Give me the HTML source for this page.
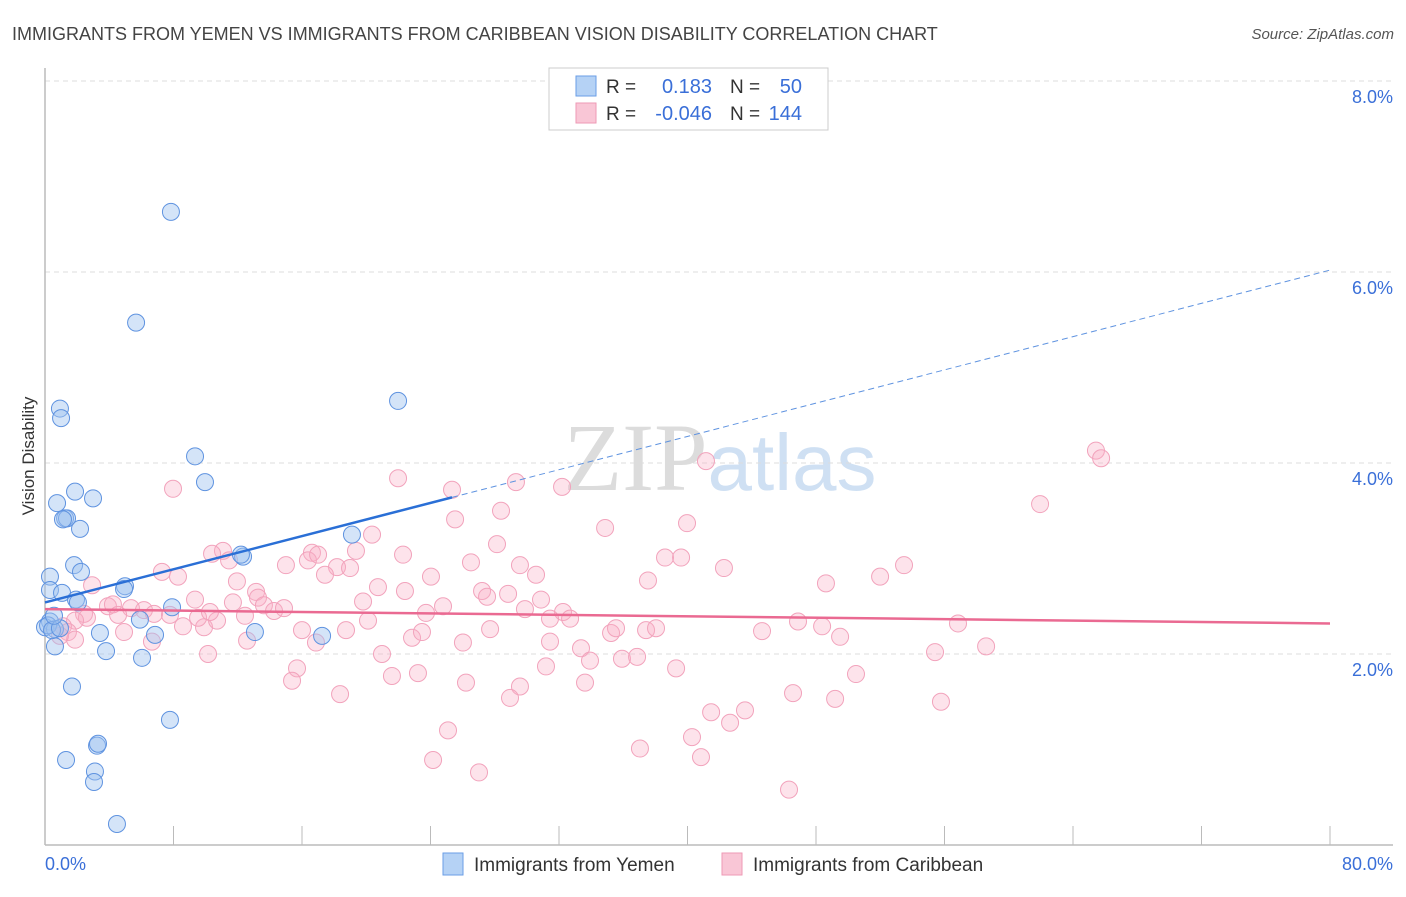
<!DOCTYPE html>
<html><head><meta charset="utf-8">
<style>
body{margin:0;background:#fff;font-family:"Liberation Sans",sans-serif;}
svg text{font-family:"Liberation Sans",sans-serif;}
</style></head>
<body>
<svg id="chart" width="1406" height="892" xmlns="http://www.w3.org/2000/svg">
<text x="12" y="40" font-size="18" fill="#444">IMMIGRANTS FROM YEMEN VS IMMIGRANTS FROM CARIBBEAN VISION DISABILITY CORRELATION CHART</text>
<text x="1394" y="39" font-size="15" fill="#555" text-anchor="end" font-style="italic">Source: ZipAtlas.com</text>
<text x="720" y="490" font-size="96" text-anchor="middle" fill="#e4e4e4"><tspan font-family="Liberation Serif" fill="#dcdcdc">ZIP</tspan><tspan fill="#cfe0f3" font-size="80">atlas</tspan></text>
<g id="grid"></g>
<g id="axes"></g>
<g id="pts"></g>
<g id="lines"></g>
<text transform="translate(34,456) rotate(-90)" font-size="17" fill="#333" text-anchor="middle">Vision Disability</text>
<g>
<rect x="549" y="68" width="279" height="62" fill="#fff" stroke="#ccc"/>
<rect x="576" y="76" width="20" height="20" fill="#b5d2f5" stroke="#6a9ee6"/>
<text x="606" y="93" font-size="19" fill="#333">R = </text><text x="712" y="93" font-size="20" fill="#3a6fd8" text-anchor="end">0.183</text>
<text x="730" y="93" font-size="19" fill="#333">N = </text><text x="802" y="93" font-size="20" fill="#3a6fd8" text-anchor="end">50</text>
<rect x="576" y="103" width="20" height="20" fill="#f9c6d6" stroke="#ee9ab5"/>
<text x="606" y="120" font-size="19" fill="#333">R = </text><text x="712" y="120" font-size="20" fill="#3a6fd8" text-anchor="end">-0.046</text>
<text x="730" y="120" font-size="19" fill="#333">N = </text><text x="802" y="120" font-size="20" fill="#3a6fd8" text-anchor="end">144</text>
</g>
<g>
<rect x="443" y="853" width="20" height="22" fill="#b5d2f5" stroke="#6a9ee6"/>
<text x="474" y="871" font-size="19" fill="#333">Immigrants from Yemen</text>
<rect x="722" y="853" width="20" height="22" fill="#f9c6d6" stroke="#ee9ab5"/>
<text x="753" y="871" font-size="19" fill="#333">Immigrants from Caribbean</text>
</g>
</svg>
<script>
const xTicks=[0,80];
const yTicks=[2,4,6,8];
const yemenX=[7.84,5.67,0.93,1.00,21.98,9.34,9.96,2.99,0.75,1.87,1.25,1.37,1.12,2.18,19.11,12.33,12.20,0.31,1.81,2.24,0.31,1.06,4.98,4.92,1.93,2.05,7.91,5.91,0.31,0,0.62,3.42,6.85,13.07,17.25,3.80,0.62,6.04,1.68,7.78,3.24,3.30,1.31,3.11,3.05,4.48,0.19,0.44,0.93,0.56];
const yemenY=[6.63,5.47,4.57,4.47,4.65,4.07,3.80,3.63,3.58,3.70,3.42,3.42,3.41,3.31,3.25,3.02,3.04,2.81,2.93,2.86,2.67,2.64,2.71,2.68,2.57,2.54,2.49,2.36,2.34,2.28,2.26,2.22,2.20,2.23,2.19,2.03,2.08,1.96,1.66,1.31,1.04,1.06,0.89,0.77,0.66,0.22,2.30,2.25,2.27,2.40];
const carX=[7.97,21.98,29.32,32.19,25.34,41.15,65.43,65.75,61.95,25.53,28.39,39.97,34.87,20.36,28.14,11.08,10.40,11.46,16.62,19.36,22.29,7.28,8.28,15.00,16.37,17.00,18.18,18.99,26.52,29.57,30.57,38.60,39.60,42.27,53.48,51.99,48.62,37.54,11.95,17.43,20.73,22.41,24.03,2.93,13.14,13.26,27.21,27.52,28.83,30.88,19.80,9.34,5.35,3.92,4.23,6.16,6.79,7.78,11.70,13.63,14.26,14.88,23.72,24.78,29.88,32.25,31.44,32.69,4.55,2.43,2.61,1.87,1.12,1.43,1.87,0.93,4.92,6.66,8.59,9.90,10.71,12.45,9.53,16.00,16.87,18.74,20.11,22.85,23.47,27.71,26.02,31.44,35.24,35.55,37.42,38.04,44.64,46.88,48.38,49.50,56.84,58.59,55.41,33.37,33.93,35.92,36.86,31.19,39.29,20.98,10.15,12.58,15.69,15.38,21.60,23.22,26.21,29.57,33.62,18.37,28.95,46.57,49.19,50.49,55.78,41.47,43.58,42.65,25.09,40.28,37.04,40.84,24.16,27.02,46.32,10.27];
const carY=[3.73,3.84,3.80,3.75,3.72,4.02,4.13,4.05,3.57,3.41,3.50,3.37,3.32,3.25,3.15,3.08,3.05,2.98,3.06,3.08,3.04,2.86,2.81,2.93,2.98,3.04,2.91,2.90,2.96,2.93,2.83,3.01,3.01,2.90,2.93,2.81,2.74,2.77,2.76,2.83,2.70,2.66,2.81,2.72,2.65,2.59,2.66,2.60,2.63,2.57,2.55,2.57,2.48,2.50,2.52,2.46,2.42,2.41,2.54,2.51,2.45,2.48,2.43,2.50,2.47,2.44,2.37,2.37,2.41,2.42,2.38,2.35,2.29,2.23,2.15,2.19,2.23,2.13,2.29,2.28,2.35,2.40,2.38,2.25,2.12,2.25,2.35,2.17,2.23,2.26,2.12,2.13,2.22,2.27,2.25,2.27,2.24,2.34,2.29,2.18,2.32,2.08,2.02,2.06,1.93,1.95,1.97,1.87,1.85,2.00,2.00,2.14,1.85,1.72,1.77,1.80,1.70,1.66,1.70,1.58,1.54,1.59,1.53,1.79,1.50,1.39,1.41,1.28,1.20,1.13,1.01,0.92,0.89,0.76,0.58,2.44];
const yemenTrend=[[0,2.54],[25.34,3.64],[80,6.02]];
const carTrend=[[0,2.47],[80,2.32]];

const NS='http://www.w3.org/2000/svg';
const X0=45,X1=1330,Y0=845,YP=191/2;
const sx=v=>X0+(v/80)*(X1-X0);
const sy=v=>Y0-v*YP;
function mk(tag,attrs,parent){const e=document.createElementNS(NS,tag);for(const k in attrs)e.setAttribute(k,attrs[k]);parent.appendChild(e);return e;}
const grid=document.getElementById('grid'),axes=document.getElementById('axes'),pts=document.getElementById('pts'),lines=document.getElementById('lines');
yTicks.forEach(t=>{
  const l=mk('line',{x1:X0,x2:1393,y1:sy(t),y2:sy(t),stroke:'#ddd','stroke-dasharray':'5,4'},grid);
  
  
  const tx=mk('text',{x:1393,y:sy(t)+22,'font-size':18,fill:'#3a6fd8','text-anchor':'end'},axes);
  tx.textContent=t.toFixed(1)+'%';
  
  
});
const ya=mk('line',{x1:X0,x2:X0,y1:68,y2:Y0,stroke:'#bbb','stroke-width':1.5},axes);


const xa=mk('line',{x1:X0,x2:1393,y1:Y0,y2:Y0,stroke:'#bbb','stroke-width':1.5},axes);


for(let i=1;i<=10;i++){
  const t=mk('line',{x1:sx(i*8),x2:sx(i*8),y1:826,y2:Y0,stroke:'#bbb'},axes);
  
  
}
xTicks.forEach((t,i)=>{
  const tx=mk('text',{x:i==0?X0:1393,y:870,'font-size':18,fill:'#3a6fd8','text-anchor':i==0?'start':'end'},axes);
  tx.textContent=t.toFixed(1)+'%';
  
  
});
carX.forEach((v,i)=>{
  const c=mk('circle',{cx:sx(v),cy:sy(carY[i]),r:8.5,fill:'rgba(248,175,198,0.35)',stroke:'#f2a3bc','stroke-width':1},pts);
  
  
});
yemenX.forEach((v,i)=>{
  const c=mk('circle',{cx:sx(v),cy:sy(yemenY[i]),r:8.5,fill:'rgba(160,196,240,0.45)',stroke:'#5f93e0','stroke-width':1},pts);
  
  
});
const ys=mk('line',{x1:sx(yemenTrend[0][0]),y1:sy(yemenTrend[0][1]),x2:sx(yemenTrend[1][0]),y2:sy(yemenTrend[1][1]),stroke:'#2a6fd6','stroke-width':2.5},lines);


const yd=mk('line',{x1:sx(yemenTrend[1][0]),y1:sy(yemenTrend[1][1]),x2:sx(yemenTrend[2][0]),y2:sy(yemenTrend[2][1]),stroke:'#5f93e0','stroke-width':1,'stroke-dasharray':'6,4'},lines);


const cl=mk('line',{x1:sx(carTrend[0][0]),y1:sy(carTrend[0][1]),x2:sx(carTrend[1][0]),y2:sy(carTrend[1][1]),stroke:'#ea6a92','stroke-width':2.5},lines);


</script>
</body></html>
